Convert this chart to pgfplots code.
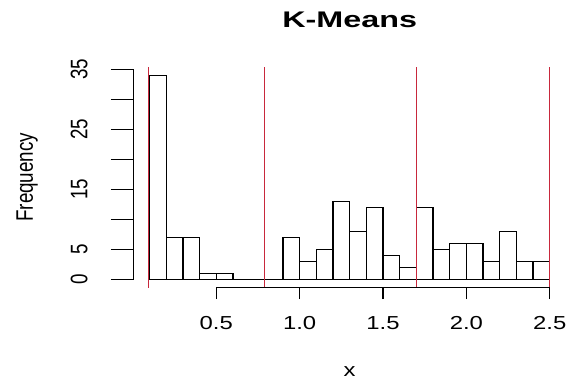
\documentclass[border=0pt]{standalone}
\usepackage{fontspec}
\setmainfont{Liberation Sans}[FakeStretch=1.27]
\newfontfamily\plainfont{Liberation Sans}
\newfontfamily\titlefont{Liberation Sans}[FakeStretch=1.43]
\usepackage{graphicx}
\usepackage{pgfplots}
\pgfplotsset{compat=1.18}
\definecolor{rred}{RGB}{200,40,60}
\newcommand{\vs}[1]{\scalebox{1}[1.27]{\plainfont #1}}
\begin{document}
\begin{tikzpicture}
\begin{axis}[
  at={(0,0)}, anchor=south west,
  scale only axis, width=432.1bp, height=220.4bp,
  xmin=0.004, xmax=2.596, ymin=-1.36, ymax=35.36,
  axis lines*=left, axis line style={draw=none},
  clip=false,
  xtick={0.5,1,1.5,2,2.5}, xticklabels={0.5,1.0,1.5,2.0,2.5},
  ytick={0,5,...,35}, yticklabels={\vs{0},\vs{5},,\vs{15},,\vs{25},,\vs{35}},
  tick align=outside,
  xtick style={black, line width=1.2bp, /pgfplots/major tick length=11.6bp},
  ytick style={black, line width=1.2bp, /pgfplots/major tick length=22.7bp},
  every tick label/.append style={font=\fontsize{18.8bp}{20bp}\selectfont},
  xticklabel style={anchor=base, yshift=-38bp},
  yticklabel style={anchor=base, xshift=-42bp, rotate=90},
  title={\titlefont\bfseries K-Means},
  title style={font=\fontsize{22.6bp}{24bp}\selectfont, anchor=base, at={(axis description cs:0.5,1)}, yshift=33.5bp},
  xlabel={x},
  xlabel style={font=\fontsize{18.8bp}{20bp}\selectfont, anchor=base, at={(axis description cs:0.5,0)}, yshift=-88.5bp},
  ylabel={\vs{Frequency}},
  ylabel style={font=\fontsize{18.8bp}{20bp}\selectfont, anchor=base, at={(axis description cs:0,0.5)}, yshift=100.6bp},
]
\addplot[ybar interval, fill=white, draw=black, line width=1.4bp] coordinates {
(0.1,34) (0.2,7) (0.3,7) (0.4,1) (0.5,1) (0.6,0) (0.7,0) (0.8,0)
(0.9,7) (1.0,3) (1.1,5) (1.2,13) (1.3,8) (1.4,12) (1.5,4) (1.6,2)
(1.7,12) (1.8,5) (1.9,6) (2.0,6) (2.1,3) (2.2,8) (2.3,3) (2.4,3) (2.5,3)
};
\addplot[rred, line width=1.4bp] coordinates {(0.095,-1.36) (0.095,35.36)};
\addplot[rred, line width=1.4bp] coordinates {(0.79,-1.36) (0.79,35.36)};
\addplot[rred, line width=1.4bp] coordinates {(1.7,-1.36) (1.7,35.36)};
\addplot[rred, line width=1.4bp] coordinates {(2.5,-1.36) (2.5,35.36)};
\draw[black, line width=1.2bp] (axis cs:0.5,-1.36) -- (axis cs:2.5,-1.36);
\draw[black, line width=1.2bp] (axis cs:0.004,0) -- (axis cs:0.004,35);
\end{axis}
\pgfresetboundingbox
\path (-133.6bp,-93.5bp) rectangle (443.4bp,287.5bp);
\end{tikzpicture}
\end{document}
